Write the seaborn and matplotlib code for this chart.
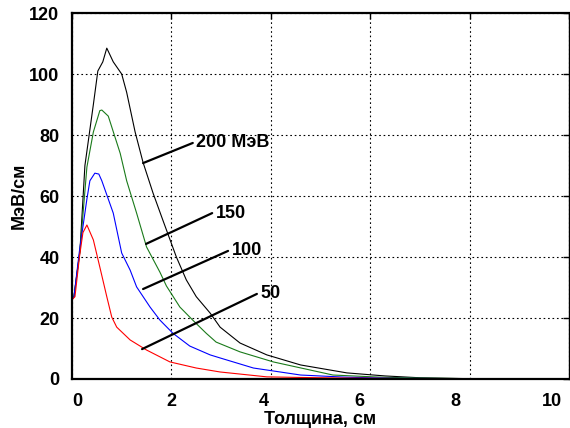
import matplotlib
matplotlib.use("Agg")
import matplotlib.pyplot as plt
import matplotlib.transforms as mtransforms
import seaborn as sns
import pandas as pd

# толщина (см) и dE/dx (МэВ/см)
x_200 = [0.0, 0.04, 0.16, 0.26, 0.43, 0.52, 0.62, 0.70, 0.83, 1.0, 1.1, 1.27, 1.43,
         1.63, 1.83, 2.1, 2.3, 2.5, 2.78, 2.98, 3.38, 3.92, 4.6, 5.53, 6.3, 7.0, 8.0, 10.0]
y_200 = [26, 27, 42, 70, 90, 101, 104, 108.5, 104, 100, 94, 81, 71,
         61, 52, 40, 32.5, 27, 21.6, 17, 11.8, 7.9, 4.6, 2.0, 1.0, 0.4, 0.1, 0.0]

x_150 = [0.0, 0.04, 0.16, 0.3, 0.43, 0.56, 0.6, 0.73, 0.97, 1.1, 1.3, 1.5, 1.77, 1.9,
         2.17, 2.43, 2.7, 2.9, 3.38, 4.05, 5.25, 6.2, 7.0, 8.0, 10.0]
y_150 = [26, 27, 42, 69.5, 81, 88, 88.2, 86.2, 74, 65, 54.4, 43.3, 35, 30.5,
         23.6, 19.3, 15, 12.1, 8.9, 5.6, 1.3, 0.6, 0.3, 0.1, 0.0]

x_100 = [0.0, 0.04, 0.15, 0.3, 0.36, 0.46, 0.54, 0.6, 0.83, 1.0, 1.17, 1.3, 1.57, 1.77,
         2.03, 2.37, 2.78, 2.98, 3.65, 4.6, 5.5, 6.5, 10.0]
y_100 = [26, 27, 42, 59, 65, 67.5, 67.2, 65, 54.4, 41.3, 35.7, 30.2, 23.6, 19.3,
         15, 10.8, 7.9, 6.9, 3.6, 1.3, 0.6, 0.2, 0.0]

x_50 = [0.0, 0.06, 0.15, 0.22, 0.3, 0.43, 0.56, 0.7, 0.8, 0.9, 1.17, 1.5, 1.97,
        2.5, 2.98, 3.92, 4.6, 5.5, 7.0, 10.0]
y_50 = [26, 27, 40, 48, 50.5, 45.6, 36.7, 27, 20.3, 17, 12.8, 9.5, 5.6,
        3.6, 2.3, 0.7, 0.5, 0.3, 0.1, 0.0]

labels = ["200 МэВ", "150", "100", "50"]
colors = ["black", "#1a7a1a", "#0000ff", "#ff0000"]
# подписи: точка на кривой -> место текста
ann_from = [(1.43, 70.8), (1.49, 44.3), (1.43, 29.5), (1.41, 9.8)]
ann_to = [(2.43, 77.4), (2.82, 54.4), (3.14, 42.0), (3.72, 27.9)]

x_ticks = [0, 2, 4, 6, 8, 10]
y_ticks = [0, 20, 40, 60, 80, 100, 120]
# сдвиг подписей оси x (пиксели), как на исходном рисунке
x_tick_shift = [5, 0, -7, -11, -14, -17]

series = [(x_200, y_200), (x_150, y_150), (x_100, y_100), (x_50, y_50)]

sns.set_style("white")
plt.rcParams["font.family"] = ["Liberation Sans", "DejaVu Sans"]
plt.rcParams["font.weight"] = "bold"
for key in ["text.color", "axes.labelcolor", "xtick.color", "ytick.color"]:
    plt.rcParams[key] = "black"

fig = plt.figure(figsize=(5.7, 4.28), dpi=100)
ax = fig.add_axes([0.1263, 0.1145, 0.872, 0.855])

for (xs, ys), lab, c in zip(series, labels, colors):
    df = pd.DataFrame({"x": xs, "y": ys})
    sns.lineplot(data=df, x="x", y="y", color=c, linewidth=0.8, ax=ax, legend=False)

for lab, p0, p1 in zip(labels, ann_from, ann_to):
    ax.plot([p0[0], p1[0]], [p0[1], p1[1]], color="black", linewidth=1.6)
    ax.text(p1[0] + 0.07, p1[1], lab, fontsize=13, fontweight="bold",
            ha="left", va="center", color="black")

ax.set_xlim(0, 10)
ax.set_ylim(0, 120)
ax.set_xticks(x_ticks)
ax.set_yticks(y_ticks)
ax.grid(True, color="black", linestyle=(0, (1.5, 2.5)), linewidth=0.8)
ax.tick_params(direction="in", length=4, top=True, right=True,
               labelsize=13, width=1, colors="black")
ax.tick_params(axis="x", pad=10)
ax.tick_params(axis="y", pad=9)
for lbl in ax.get_xticklabels() + ax.get_yticklabels():
    lbl.set_fontweight("bold")
for lbl, dx in zip(ax.get_xticklabels(), x_tick_shift):
    lbl.set_transform(lbl.get_transform() +
                      mtransforms.ScaledTranslation(dx / 100, 0, fig.dpi_scale_trans))
for side in ["left", "bottom", "top"]:
    ax.spines[side].set_linewidth(1.6)
    ax.spines[side].set_color("black")
ax.spines["right"].set_linewidth(1.0)
ax.spines["right"].set_color("black")

ax.set_xlabel("Толщина, см", fontsize=13, fontweight="bold", labelpad=1, color="black")
ax.set_ylabel("МэВ/см", fontsize=13, fontweight="bold", labelpad=1, color="black")

fig.savefig("out.png", dpi=100)
